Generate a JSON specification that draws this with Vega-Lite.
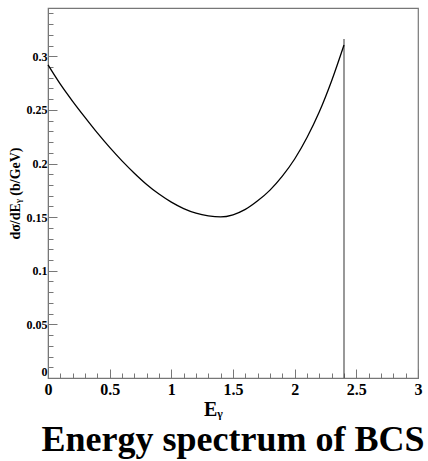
{
  "$schema": "https://vega.github.io/schema/vega-lite/v6.json",
  "autosize": "none",
  "width": 370,
  "height": 370,
  "padding": {"left": 48, "top": 8, "right": 10, "bottom": 83},
  "background": "white",
  "config": {
    "view": {"stroke": "#777", "strokeWidth": 1.2},
    "font": "Liberation Serif"
  },
  "title": {
    "text": "Energy spectrum of BCS",
    "orient": "bottom",
    "anchor": "middle",
    "font": "Liberation Serif",
    "fontSize": 36,
    "fontWeight": "bold",
    "color": "black",
    "offset": 4
  },
  "datasets": {
    "curve": [
      {"e": 0.0, "s": 0.292},
      {"e": 0.1, "s": 0.274},
      {"e": 0.2, "s": 0.258},
      {"e": 0.3, "s": 0.243},
      {"e": 0.4, "s": 0.2285},
      {"e": 0.5, "s": 0.215},
      {"e": 0.6, "s": 0.2025},
      {"e": 0.7, "s": 0.191},
      {"e": 0.8, "s": 0.1805},
      {"e": 0.9, "s": 0.1715},
      {"e": 1.0, "s": 0.164},
      {"e": 1.1, "s": 0.158},
      {"e": 1.2, "s": 0.1537},
      {"e": 1.3, "s": 0.1512},
      {"e": 1.4, "s": 0.1502},
      {"e": 1.5, "s": 0.1522},
      {"e": 1.6, "s": 0.1572},
      {"e": 1.7, "s": 0.1652},
      {"e": 1.8, "s": 0.1752},
      {"e": 1.9, "s": 0.1882},
      {"e": 2.0, "s": 0.2042},
      {"e": 2.1, "s": 0.2242},
      {"e": 2.2, "s": 0.2482},
      {"e": 2.3, "s": 0.2772},
      {"e": 2.4, "s": 0.3105}
    ],
    "edge": [
      {"e": 2.4, "s0": 0, "s1": 0.316}
    ]
  },
  "layer": [
    {
      "data": {"name": "edge"},
      "mark": {"type": "rule", "color": "#444", "strokeWidth": 1.1},
      "encoding": {
        "x": {"field": "e", "type": "quantitative"},
        "y": {"field": "s0", "type": "quantitative"},
        "y2": {"field": "s1"}
      }
    },
    {
      "data": {"name": "curve"},
      "mark": {"type": "line", "color": "black", "strokeWidth": 1.3, "interpolate": "monotone"},
      "encoding": {
        "x": {"field": "e", "type": "quantitative"},
        "y": {"field": "s", "type": "quantitative"}
      }
    }
  ],
  "encoding": {
    "x": {
      "field": "e",
      "type": "quantitative",
      "scale": {"domain": [0, 3], "nice": false, "zero": false},
      "axis": {
        "title": "Eᵧ",
        "titleFont": "Liberation Serif",
        "titleFontSize": 20,
        "titleFontWeight": "bold",
        "titleColor": "black",
        "titleX": 165,
        "titleY": 21,
        "titleBaseline": "top",
        "values": [0,0.1,0.2,0.3,0.4,0.5,0.6,0.7,0.8,0.9,1,1.1,1.2,1.3,1.4,1.5,1.6,1.7,1.8,1.9,2,2.1,2.2,2.3,2.4,2.5,2.6,2.7,2.8,2.9,3],
        "labelExpr": "abs(datum.value*2 - round(datum.value*2)) < 0.001 ? format(datum.value, '~g') : ''",
        "labelFont": "Liberation Serif",
        "labelFontSize": 16,
        "labelFontWeight": "bold",
        "labelColor": "black",
        "labelOverlap": false,
        "labelBound": false,
        "labelFlush": false,
        "labelPadding": 12,
        "tickSize": {"condition": {"test": "abs(datum.value*2 - round(datum.value*2)) < 0.001", "value": -9}, "value": -5},
        "tickColor": "#777",
        "domainColor": "#777",
        "grid": false
      }
    },
    "y": {
      "field": "s",
      "type": "quantitative",
      "scale": {"domain": [0, 0.345], "nice": false},
      "axis": {
        "title": "dσ/dEᵧ (b/GeV)",
        "titleFont": "Liberation Serif",
        "titleFontSize": 14,
        "titleFontWeight": "bold",
        "titleColor": "black",
        "titleX": -33,
        "titleBaseline": "middle",
        "values": [0,0.01,0.02,0.03,0.04,0.05,0.06,0.07,0.08,0.09,0.1,0.11,0.12,0.13,0.14,0.15,0.16,0.17,0.18,0.19,0.2,0.21,0.22,0.23,0.24,0.25,0.26,0.27,0.28,0.29,0.3,0.31,0.32,0.33,0.34],
        "labelExpr": "abs(datum.value*20 - round(datum.value*20)) < 0.001 ? format(datum.value, '~g') : ''",
        "labelFont": "Liberation Serif",
        "labelFontSize": 12,
        "labelFontWeight": "bold",
        "labelColor": "black",
        "labelOverlap": false,
        "labelBound": false,
        "labelFlush": false,
        "labelPadding": 10,
        "labelBaseline": {"condition": {"test": "datum.value == 0", "value": "bottom"}, "value": "middle"},
        "tickSize": {"condition": {"test": "abs(datum.value*20 - round(datum.value*20)) < 0.001", "value": -9}, "value": -5},
        "tickColor": "#777",
        "domainColor": "#777",
        "grid": false
      }
    }
  }
}
